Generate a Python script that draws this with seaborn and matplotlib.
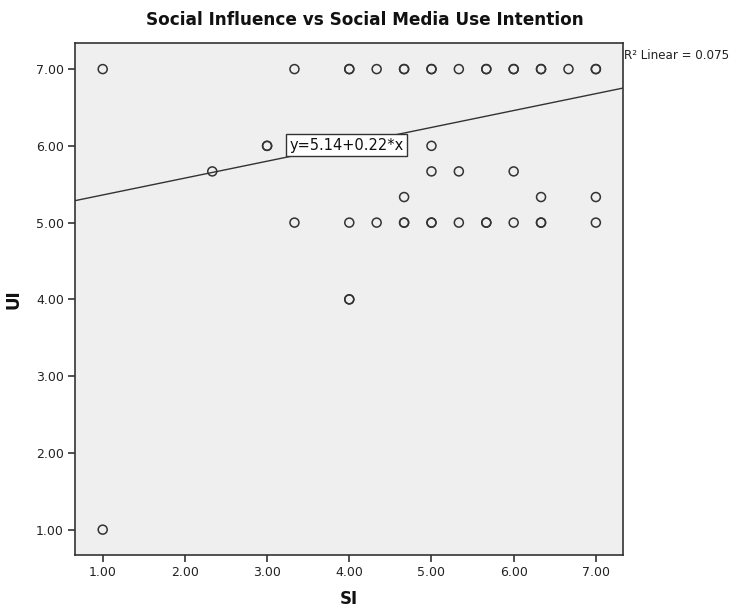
import matplotlib
matplotlib.use("Agg")
import matplotlib.pyplot as plt
import seaborn as sns
import pandas as pd
import numpy as np

# ---- data ----
si = [1.0, 3.333, 4.0, 4.0, 4.333, 4.667, 4.667, 5.0, 5.0, 5.333, 5.667, 5.667,
      6.0, 6.0, 6.333, 6.333, 6.667, 7.0, 7.0,
      3.0, 3.0, 5.0,
      2.333, 5.0, 5.333, 6.0,
      4.667, 6.333, 7.0,
      3.333, 4.0, 4.333, 4.667, 4.667, 5.0, 5.0, 5.333, 5.667, 5.667, 6.0,
      6.333, 6.333, 7.0,
      4.0, 4.0,
      1.0]
ui = [7.0] * 19 + [6.0] * 3 + [5.667] * 4 + [5.333] * 3 + [5.0] * 14 + [4.0] * 2 + [1.0]

intercept = 5.14
slope = 0.22
r2 = 0.075

x_ticks = [1, 2, 3, 4, 5, 6, 7]
y_ticks = [1, 2, 3, 4, 5, 6, 7]
tick_labels = ["1.00", "2.00", "3.00", "4.00", "5.00", "6.00", "7.00"]

title = "Social Influence vs Social Media Use Intention"
x_label = "SI"
y_label = "UI"

df = pd.DataFrame({"SI": si, "UI": ui})

sns.set_style("white")
plt.rcParams["font.family"] = ["DejaVu Sans"]

fig = plt.figure(figsize=(7.39, 6.08), dpi=100)
ax = fig.add_axes([0.1015, 0.0872, 0.7415, 0.8421])
ax.set_facecolor("#efefef")

xlim = (0.663, 7.33)
ylim = (0.67, 7.34)

sns.scatterplot(data=df, x="SI", y="UI", ax=ax, marker="o", s=42,
                facecolors="none", edgecolor="#333333", linewidth=1.1, zorder=3)

xs = np.array(xlim)
ax.plot(xs, intercept + slope * xs, color="#333333", linewidth=1.0, zorder=2)

ax.text(3.27, 6.01, f"y={intercept:.2f}+{slope:.2f}*x", fontsize=10.5,
        ha="left", va="center", color="#111111", zorder=4,
        bbox=dict(boxstyle="square,pad=0.22", fc="white", ec="#333333", lw=1.0))

ax.text(1.002, 0.975, f"R² Linear = {r2:.3f}", transform=ax.transAxes,
        fontsize=8.6, ha="left", va="center", color="#222222")

ax.set_xlim(*xlim)
ax.set_ylim(*ylim)
ax.set_xticks(x_ticks)
ax.set_xticklabels(tick_labels)
ax.set_yticks(y_ticks)
ax.set_yticklabels(tick_labels)
ax.tick_params(axis="both", which="both", direction="out", length=5, width=1.2,
               color="#333333", labelsize=9, labelcolor="#222222", pad=3,
               bottom=True, left=True)

for sp in ax.spines.values():
    sp.set_visible(True)
    sp.set_color("#333333")
    sp.set_linewidth(1.2)

ax.set_xlabel(x_label, fontsize=12, fontweight="bold", labelpad=8, color="#111111")
ax.set_ylabel(y_label, fontsize=12, fontweight="bold", labelpad=10, color="#111111")
fig.text(0.494, 1 - 20 / 608, title, fontsize=12.2, fontweight="bold",
         ha="center", va="center", color="#111111")

fig.savefig("out.png", dpi=100)
